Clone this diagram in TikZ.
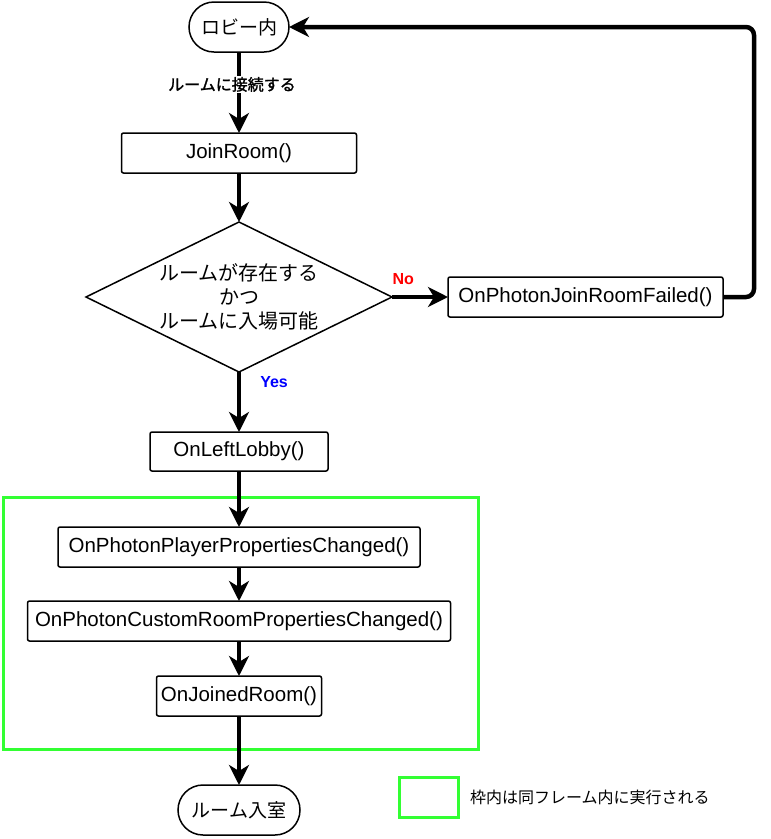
\documentclass[tikz,border=0pt]{standalone}
\usepackage{fontspec}
\setmainfont{Liberation Sans}
\newfontfamily\jpfont{Noto Sans CJK JP}
\newfontfamily\jpbold[FakeBold=1.5]{Noto Sans CJK JP}
\usetikzlibrary{
  positioning,
  shapes.misc,
  shapes.geometric,
  arrows.meta,
}
\definecolor{framegreen}{RGB}{51,255,51}
\tikzset{
  node distance=40pt and 56pt,
  >={Stealth[length=20pt,width=20pt,inset=6pt]},
  flow/.style={
    ->,
    line width=4.5pt,
    black,
  },
  box/.style={
    rectangle,
    draw,
    line width=1.5pt,
    rounded corners=2pt,
    minimum height=40pt,
    inner sep=0pt,
    outer sep=0pt,
    font=\fontsize{20.5}{24}\selectfont,
  },
  terminal/.style={
    rounded rectangle,
    draw,
    line width=1.5pt,
    minimum height=50pt,
    inner sep=0pt,
    outer sep=0pt,
    font=\jpfont\fontsize{19}{23}\selectfont,
  },
  decision/.style={
    diamond,
    aspect=2,
    draw,
    line width=1.5pt,
    minimum width=306pt,
    minimum height=150pt,
    inner sep=0pt,
    outer sep=0pt,
    align=center,
    font=\jpfont\fontsize{20}{24}\selectfont,
  },
  frame/.style={
    rectangle,
    draw=framegreen,
    line width=3pt,
    inner sep=0pt,
  },
  edgelabel/.style={
    inner sep=1pt,
    font=\fontsize{16}{18}\selectfont\bfseries,
  },
}

\begin{document}
\begin{tikzpicture}
  \useasboundingbox (0,0) rectangle (771pt,-839pt);

  \node[frame, minimum width=475pt, minimum height=252pt] (sameframe) at (240.5pt,-623pt) {};

  \node[terminal, minimum width=100pt] (lobby) at (239pt,-27pt) {ロビー内};
  \node[box, minimum width=235pt, below=81pt of lobby] (join) {JoinRoom()};
  \node[decision, below=49pt of join] (cond) {ルームが存在する\\かつ\\ルームに入場可能};
  \node[box, minimum width=275pt, right=56pt of cond] (fail) {OnPhotonJoinRoomFailed()};
  \node[box, minimum width=178pt, minimum height=39pt, below=60pt of cond] (left) {OnLeftLobby()};
  \node[box, minimum width=362pt, below=56pt of left] (player) {OnPhotonPlayerPropertiesChanged()};
  \node[box, minimum width=423pt, below=34pt of player] (custom) {OnPhotonCustomRoomPropertiesChanged()};
  \node[box, minimum width=165pt, below=35pt of custom] (joined) {OnJoinedRoom()};
  \node[terminal, minimum width=122pt, below=69pt of joined] (inroom) {ルーム入室};

  \node[frame, minimum width=59pt, minimum height=40pt] (legendbox) at (429pt,-797pt) {};
  \node[right=10pt of legendbox, inner sep=0pt, font=\jpfont\fontsize{16}{18}\selectfont] (legendtext) {枠内は同フレーム内に実行される};

  \draw[flow] (lobby) -- node[edgelabel, fill=white, pos=0.4, xshift=-7pt, font=\jpbold\fontsize{16}{18}\selectfont] {ルームに接続する} (join);
  \draw[flow] (join) -- (cond);
  \draw[flow] (cond) -- node[edgelabel, text=red, pos=0.2, above=9pt] {No} (fail);
  \draw[flow, rounded corners=8pt] (fail.east) -- ++(31pt,0) |- (lobby.east);
  \draw[flow] (cond) -- node[edgelabel, text=blue, pos=0.17, right=18pt] {Yes} (left);
  \draw[flow] (left) -- (player);
  \draw[flow] (player) -- (custom);
  \draw[flow] (custom) -- (joined);
  \draw[flow] (joined) -- (inroom);
\end{tikzpicture}
\end{document}
